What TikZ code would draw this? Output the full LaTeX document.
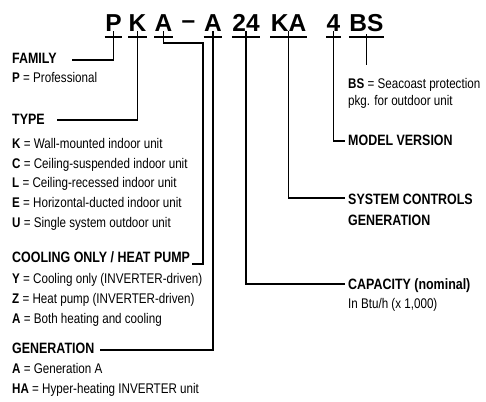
\documentclass[tikz,border=0pt]{standalone}
\usepackage{fontspec}
\setmainfont{Liberation Sans}
\newfontfamily\cond[FakeStretch=0.83]{Liberation Sans}
\begin{document}
\begin{tikzpicture}[x=1pt,y=-1pt,
  code/.style={font=\fontsize{24.5}{26}\selectfont\bfseries, anchor=base, inner xsep=0.6pt, inner ysep=0pt, text depth=0pt, outer sep=0pt},
  uline/.style={line width=1.6pt},
  conn/.style={line width=1.1pt},
  lab/.style={font=\cond\bfseries\fontsize{15}{17}\selectfont, anchor=base west, inner sep=0pt},
  desc/.style={font=\cond\fontsize{14}{16}\selectfont, anchor=base west, inner sep=0pt}]
\useasboundingbox (0,0) rectangle (486,401);
% code letters
\node[code] (cP) at (113.5,31.5) {P};
\node[code] (cK) at (137.5,31.5) {K};
\node[code] (cA1) at (163.5,31.5) {A};
\node[code] (cDash) at (188.5,29) {--};
\node[code] (cA2) at (213,31.5) {A};
\node[code] (c24) at (246,31.5) {24};
\node[code] (cKA) at (288.5,31.5) {KA};
\node[code] (c4) at (333.5,31.5) {4};
\node[code] (cBS) at (366.5,31.5) {BS};
% underlines
\foreach \n in {cP,cK,cA1,cA2,c24,cKA,c4,cBS}
  \draw[uline] ([yshift=-5.5pt]\n.base west) -- ([yshift=-5.5pt]\n.base east);
% left labels
\node[lab] (family) at (12,63.5) {FAMILY};
\node[desc] (dP) at (12,82) {\textbf{P} = Professional};
\node[lab] (type) at (12,124.5) {TYPE};
\node[desc] (dK) at (12,148) {\textbf{K} = Wall-mounted indoor unit};
\node[desc] (dC) at (12,168) {\textbf{C} = Ceiling-suspended indoor unit};
\node[desc] (dL) at (12,187.5) {\textbf{L} = Ceiling-recessed indoor unit};
\node[desc] (dE) at (12,207) {\textbf{E} = Horizontal-ducted indoor unit};
\node[desc] (dU) at (12,227) {\textbf{U} = Single system outdoor unit};
\node[lab] (cool) at (12,262.5) {COOLING ONLY / HEAT PUMP};
\node[desc] (dY) at (12,283) {\textbf{Y} = Cooling only (INVERTER-driven)};
\node[desc] (dZ) at (12,303) {\textbf{Z} = Heat pump (INVERTER-driven)};
\node[desc] (dA) at (12,323) {\textbf{A} = Both heating and cooling};
\node[lab] (gen) at (12,353.5) {GENERATION};
\node[desc] (dGA) at (12,373) {\textbf{A} = Generation A};
\node[desc] (dHA) at (12,393) {\textbf{HA} = Hyper-heating INVERTER unit};
% right labels
\node[desc] (dBS) at (348,88.5) {\textbf{BS} = Seacoast protection};
\node[desc] (dBS2) at (348,106) {pkg. for outdoor unit};
\node[lab] (model) at (348,145.5) {MODEL VERSION};
\node[lab] (sys) at (348,204.5) {SYSTEM CONTROLS};
\node[lab] (sys2) at (348,225) {GENERATION};
\node[lab] (cap) at (348,289) {CAPACITY (nominal)};
\node[desc] (dcap) at (348,308.5) {In Btu/h (x 1,000)};
% connector ends
\coordinate (eFam) at (72,60);
\coordinate (eType) at (57,120);
\coordinate (kA1a) at (163.5,43);
\coordinate (kA1b) at (203,43);
\coordinate (eCool) at (192,264);
\coordinate (eGen) at (100,350);
\coordinate (e24) at (345,284);
\coordinate (eKA) at (345,198);
\coordinate (e4) at (345,141);
\coordinate (eBS) at (366.5,65);
% connectors
\draw[conn] (cP.south) |- (eFam);
\draw[conn] (cK.south) |- (eType);
\draw[conn] (cA1.south) -- (kA1a) -- (kA1b) |- (eCool);
\draw[conn] (cA2.south) |- (eGen);
\draw[conn] (c24.south) |- (e24);
\draw[conn] (cKA.south) |- (eKA);
\draw[conn] (c4.south) |- (e4);
\draw[conn] ([yshift=-3pt]cBS.south) -- (eBS);
\end{tikzpicture}
\end{document}
